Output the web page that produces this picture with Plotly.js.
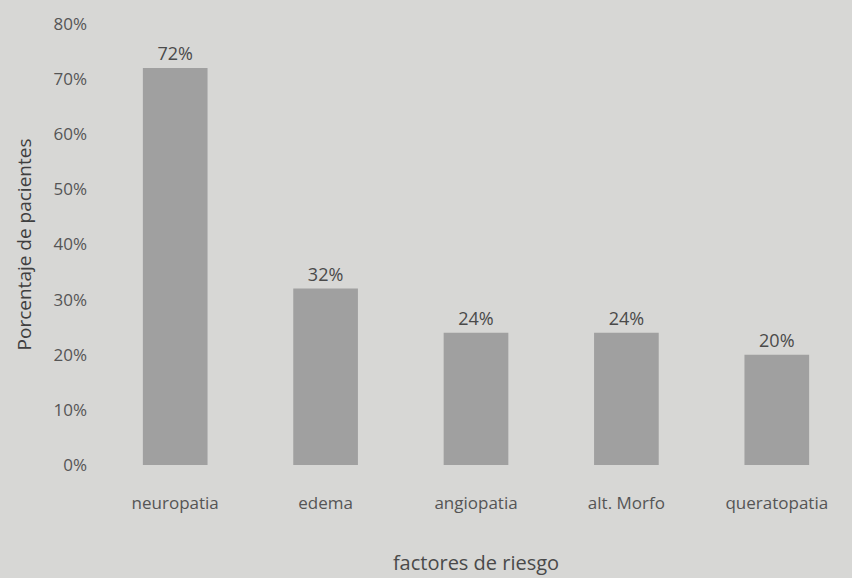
<!DOCTYPE html>
<html>
<head>
<meta charset="utf-8">
<script src="https://cdn.plot.ly/plotly-3.0.1.min.js"></script>
<style>html,body{margin:0;padding:0;background:#d7d7d5;}</style>
</head>
<body>
<div id="chart" style="width:852px;height:578px;"></div>
<script>
const categories = ["neuropatia", "edema", "angiopatia", "alt. Morfo", "queratopatia"];
const values = [0.72, 0.32, 0.24, 0.24, 0.20];
const valueLabels = ["72%", "32%", "24%", "24%", "20%"];

const FONT = "Open Sans, sans-serif";

const trace = {
  type: "bar",
  x: categories,
  y: values,
  text: valueLabels,
  textposition: "outside",
  cliponaxis: false,
  textfont: {family: FONT, size: 18, color: "#4a4a4a"},
  marker: {color: "#a0a0a0"},
  width: 0.43,
  hoverinfo: "none"
};

const layout = {
  width: 852, height: 578,
  paper_bgcolor: "#d7d7d5",
  plot_bgcolor: "#d7d7d5",
  margin: {l: 100, r: 0, t: 24, b: 113},
  showlegend: false,
  xaxis: {
    showline: false, showgrid: false, zeroline: false, ticks: "",
    ticklabelstandoff: 26,
    tickfont: {family: FONT, size: 17, color: "#555"},
    title: {text: "factores de riesgo", font: {family: FONT, size: 20, color: "#4a4a4a"}, standoff: 42}
  },
  yaxis: {
    range: [0, 0.8], dtick: 0.1, tickformat: ".0%",
    showline: false, showgrid: false, zeroline: false, ticks: "",
    ticklabelstandoff: 12,
    tickfont: {family: FONT, size: 17, color: "#555"},
    title: {text: "Porcentaje de pacientes", font: {family: FONT, size: 19, color: "#3f3f3f"}, standoff: 16}
  },
  bargap: 0.57
};

Plotly.newPlot("chart", [trace], layout, {staticPlot: true, displayModeBar: false});
</script>
</body>
</html>
